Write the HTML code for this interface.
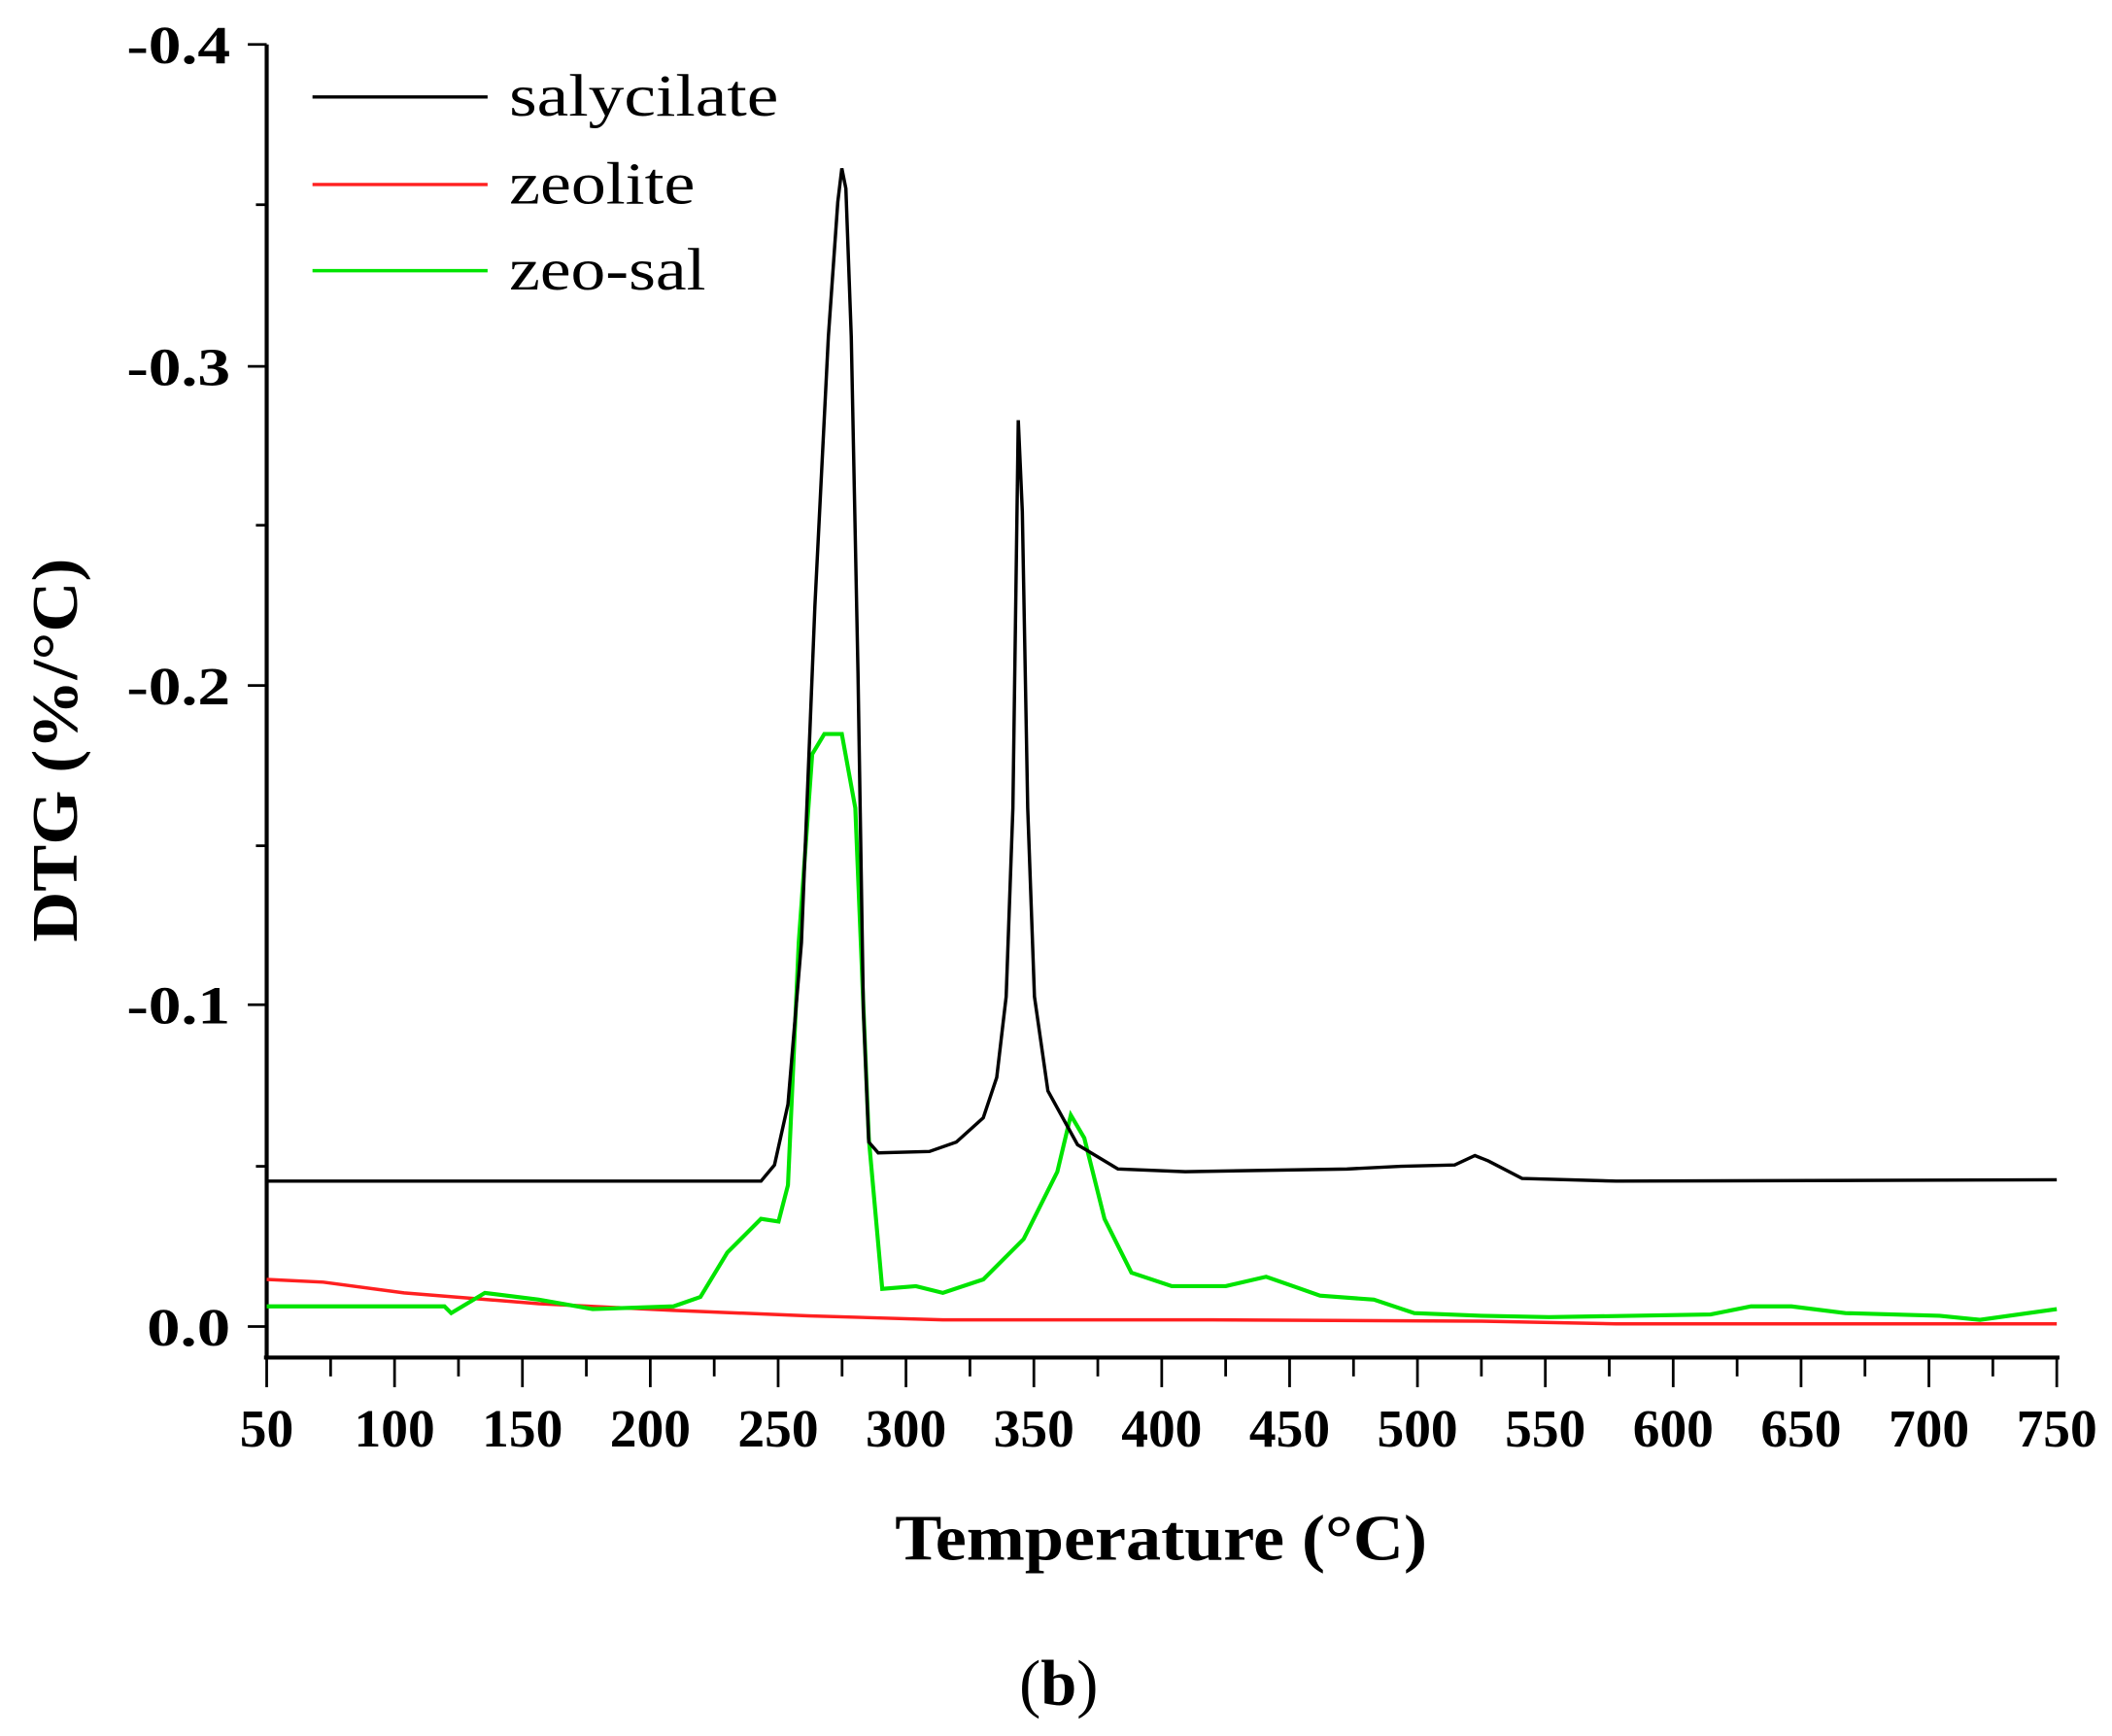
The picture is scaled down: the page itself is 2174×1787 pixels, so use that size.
<!DOCTYPE html>
<html><head><meta charset="utf-8"><style>html,body{margin:0;padding:0;background:#fff}svg{display:block}</style></head>
<body>
<svg width="2174" height="1787" viewBox="0 0 1568 1289" preserveAspectRatio="none" xmlns="http://www.w3.org/2000/svg" font-family="'Liberation Serif', serif">
<rect width="1568" height="1289" fill="#fff"/>
<line x1="198" y1="33" x2="198" y2="1008" stroke="#000" stroke-width="3"/>
<line x1="196" y1="1008" x2="1529" y2="1008" stroke="#000" stroke-width="3"/>
<g stroke="#000" stroke-width="2">
<line x1="184" y1="33" x2="198" y2="33"/><line x1="190" y1="152" x2="198" y2="152"/>
<line x1="184" y1="272" x2="198" y2="272"/><line x1="190" y1="390" x2="198" y2="390"/>
<line x1="184" y1="509" x2="198" y2="509"/><line x1="190" y1="628" x2="198" y2="628"/>
<line x1="184" y1="746" x2="198" y2="746"/><line x1="190" y1="866" x2="198" y2="866"/>
<line x1="184" y1="985" x2="198" y2="985"/>
</g>
<g stroke="#000" stroke-width="2" id="xt"></g>
<g font-weight="bold" font-size="40" text-anchor="end">
<text x="171" y="47" textLength="77" lengthAdjust="spacingAndGlyphs">-0.4</text><text x="171" y="286" textLength="77" lengthAdjust="spacingAndGlyphs">-0.3</text><text x="171" y="523" textLength="77" lengthAdjust="spacingAndGlyphs">-0.2</text><text x="171" y="760" textLength="77" lengthAdjust="spacingAndGlyphs">-0.1</text><text x="171" y="999" textLength="62" lengthAdjust="spacingAndGlyphs">0.0</text>
</g>
<g font-weight="bold" font-size="40" text-anchor="middle" id="xl"></g>
<text x="862" y="1158" font-weight="bold" font-size="48" text-anchor="middle" textLength="395" lengthAdjust="spacingAndGlyphs">Temperature (°C)</text>
<text transform="translate(57,557) rotate(-90)" font-weight="bold" font-size="48" text-anchor="middle" textLength="285" lengthAdjust="spacingAndGlyphs">DTG (%/°C)</text>
<text x="786" y="1266" font-size="48" text-anchor="middle">(<tspan font-weight="bold">b</tspan>)</text>
<line x1="232" y1="72" x2="362" y2="72" stroke="#000" stroke-width="2.5"/>
<line x1="232" y1="137" x2="362" y2="137" stroke="#ff2020" stroke-width="2.5"/>
<line x1="232" y1="201" x2="362" y2="201" stroke="#00e400" stroke-width="2.5"/>
<g font-size="44"><text x="378" y="86" textLength="200" lengthAdjust="spacingAndGlyphs">salycilate</text><text x="378" y="151" textLength="138" lengthAdjust="spacingAndGlyphs">zeolite</text><text x="378" y="215" textLength="146" lengthAdjust="spacingAndGlyphs">zeo-sal</text></g>
<polyline fill="none" stroke="#ff2020" stroke-width="2.5" points="198,950 240,952 300,960 400,968 500,973 600,977 700,980 900,980 1100,981 1200,983 1527,983"/>
<polyline fill="none" stroke="#00e400" stroke-width="3" points="198,970 330,970 335,975 360,960 400,965 440,972 500,970 520,963 540,930 565,905 578,907 585,880 593,700 603,560 612,545 625,545 635,600 645,845 655,957 680,955 700,960 730,950 760,920 785,870 795,828 805,845 820,905 840,945 870,955 910,955 940,948 960,955 980,962 1020,965 1050,975 1100,977 1150,978 1270,976 1300,970 1330,970 1370,975 1440,977 1470,980 1527,972"/>
<polyline fill="none" stroke="#000" stroke-width="2.5" points="198,877 565,877 575,865 585,820 595,700 605,450 615,250 622,150 625,125 628,140 632,250 637,500 641,750 645,848 652,856 690,855 710,848 730,830 740,800 747,740 752,600 756,312 759,380 763,600 768,740 778,810 800,850 830,868 880,870 1000,868 1040,866 1080,865 1095,858 1105,862 1130,875 1200,877 1527,876"/>
<script>
var t=document.getElementById('xt'),l=document.getElementById('xl'),ns='http://www.w3.org/2000/svg';
for(var v=50;v<=750;v+=25){var x=198+(v-50)*1329/700;var ln=document.createElementNS(ns,'line');ln.setAttribute('x1',x);ln.setAttribute('x2',x);ln.setAttribute('y1',1008);ln.setAttribute('y2',v%50==0?1030:1022);t.appendChild(ln);
if(v%50==0){var tx=document.createElementNS(ns,'text');tx.setAttribute('x',x);tx.setAttribute('y',1074);tx.textContent=v;l.appendChild(tx);}}
</script>
</svg>
</body></html>
